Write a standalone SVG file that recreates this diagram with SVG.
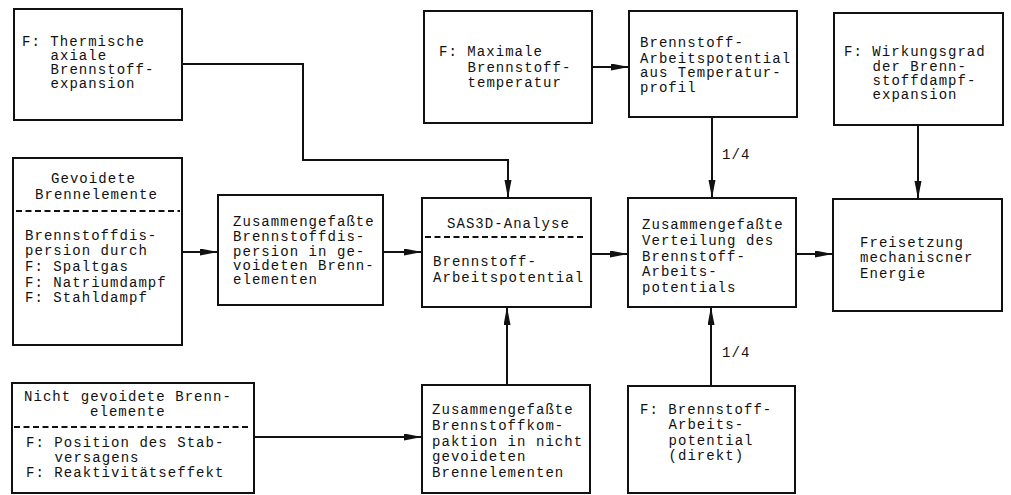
<svg xmlns="http://www.w3.org/2000/svg" width="1011" height="495" viewBox="0 0 1011 495">
  <style>
    .box { fill: #ffffff; stroke: #111111; stroke-width: 2; }
    .sep { stroke: #111111; stroke-width: 1.8; stroke-dasharray: 6 3.5; }
    .wire { fill: none; stroke: #111111; stroke-width: 2; }
    text { font-family: "Liberation Mono", "Courier New", monospace; font-size: 14px; letter-spacing: 1.05px; fill: #111111; }
  </style>
  <defs>
    <marker id="arrow" markerUnits="userSpaceOnUse" markerWidth="19" markerHeight="8" refX="18" refY="3.5" orient="auto">
      <path d="M0,0 L18,3.5 L0,7 z" fill="#111111"/>
    </marker>
  </defs>
  <rect width="1011" height="495" fill="#ffffff"/>

  <!-- connectors -->
  <g id="connectors">
    <path class="wire" d="M182,64 H303 V160 H508 V198" marker-end="url(#arrow)"/>
    <path class="wire" d="M592,67 H629" marker-end="url(#arrow)"/>
    <path class="wire" d="M712,117 V198" marker-end="url(#arrow)"/>
    <path class="wire" d="M918,125 V199" marker-end="url(#arrow)"/>
    <path class="wire" d="M182,252 H218" marker-end="url(#arrow)"/>
    <path class="wire" d="M383,252 H422" marker-end="url(#arrow)"/>
    <path class="wire" d="M591,254 H628" marker-end="url(#arrow)"/>
    <path class="wire" d="M796,254 H833" marker-end="url(#arrow)"/>
    <path class="wire" d="M254,437 H422" marker-end="url(#arrow)"/>
    <path class="wire" d="M507,385 V307" marker-end="url(#arrow)"/>
    <path class="wire" d="M711,386 V307" marker-end="url(#arrow)"/>
    <text x="722" y="159">1/4</text>
    <text x="722" y="357">1/4</text>
  </g>

  <!-- top row -->
  <g id="thermische-expansion">
    <rect class="box" x="14" y="9" width="168" height="111"/>
    <text x="22" y="46">F: Thermische</text>
    <text x="50.5" y="60">axiale</text>
    <text x="50.5" y="74">Brennstoff-</text>
    <text x="50.5" y="88">expansion</text>
  </g>

  <g id="max-temperatur">
    <rect class="box" x="424" y="11" width="168" height="112"/>
    <text x="439" y="56">F: Maximale</text>
    <text x="467.5" y="72">Brennstoff-</text>
    <text x="467.5" y="87">temperatur</text>
  </g>

  <g id="temperaturprofil">
    <rect class="box" x="629" y="11" width="168" height="106"/>
    <text x="640" y="47">Brennstoff-</text>
    <text x="640" y="63">Arbeitspotential</text>
    <text x="640" y="77">aus Temperatur-</text>
    <text x="640" y="92">profil</text>
  </g>

  <g id="wirkungsgrad">
    <rect class="box" x="834" y="13" width="169" height="112"/>
    <text x="844" y="56">F: Wirkungsgrad</text>
    <text x="872.5" y="71">der Brenn-</text>
    <text x="872.5" y="85">stoffdampf-</text>
    <text x="872.5" y="99">expansion</text>
  </g>

  <!-- middle row -->
  <g id="gevoidete">
    <rect class="box" x="13" y="158" width="169" height="187"/>
    <text x="51" y="182.5">Gevoidete</text>
    <text x="35" y="198.5">Brennelemente</text>
    <line class="sep" x1="16" y1="211" x2="180" y2="211"/>
    <text x="25" y="239.5">Brennstoffdis-</text>
    <text x="25" y="254.5">persion durch</text>
    <text x="25" y="270.5">F: Spaltgas</text>
    <text x="25" y="286.5">F: Natriumdampf</text>
    <text x="25" y="301.5">F: Stahldampf</text>
  </g>

  <g id="dispersion">
    <rect class="box" x="218" y="195" width="165" height="110"/>
    <text x="233" y="226">Zusammengefaßte</text>
    <text x="233" y="241">Brennstoffdis-</text>
    <text x="233" y="256">persion in ge-</text>
    <text x="233" y="270">voideten Brenn-</text>
    <text x="233" y="284">elementen</text>
  </g>

  <g id="sas3d">
    <rect class="box" x="422" y="198" width="169" height="109"/>
    <text x="447" y="227.5">SAS3D-Analyse</text>
    <line class="sep" x1="425" y1="237" x2="586" y2="237"/>
    <text x="433" y="265.5">Brennstoff-</text>
    <text x="433" y="281.5">Arbeitspotential</text>
  </g>

  <g id="verteilung">
    <rect class="box" x="628" y="198" width="168" height="109"/>
    <text x="642" y="229">Zusammengefaßte</text>
    <text x="642" y="245">Verteilung des</text>
    <text x="642" y="261">Brennstoff-</text>
    <text x="642" y="276">Arbeits-</text>
    <text x="642" y="292">potentials</text>
  </g>

  <g id="freisetzung">
    <rect class="box" x="833" y="199" width="169" height="112"/>
    <text x="860" y="247">Freisetzung</text>
    <text x="860" y="262">mechaniscner</text>
    <text x="860" y="278">Energie</text>
  </g>

  <!-- bottom row -->
  <g id="nicht-gevoidete">
    <rect class="box" x="12" y="383" width="242" height="110"/>
    <text x="24" y="401">Nicht gevoidete Brenn-</text>
    <text x="90" y="416">elemente</text>
    <line class="sep" x1="14" y1="427" x2="251" y2="427"/>
    <text x="26" y="447">F: Position des Stab-</text>
    <text x="54.5" y="462">versagens</text>
    <text x="26" y="477">F: Reaktivitätseffekt</text>
  </g>

  <g id="kompaktion">
    <rect class="box" x="422" y="385" width="168" height="108"/>
    <text x="432" y="414">Zusammengefaßte</text>
    <text x="432" y="430">Brennstoffkom-</text>
    <text x="432" y="446">paktion in nicht</text>
    <text x="432" y="461">gevoideten</text>
    <text x="432" y="477">Brennelementen</text>
  </g>

  <g id="direkt">
    <rect class="box" x="628" y="386" width="167" height="107"/>
    <text x="640" y="414">F: Brennstoff-</text>
    <text x="668.5" y="429">Arbeits-</text>
    <text x="668.5" y="445">potential</text>
    <text x="668.5" y="460">(direkt)</text>
  </g>
</svg>
